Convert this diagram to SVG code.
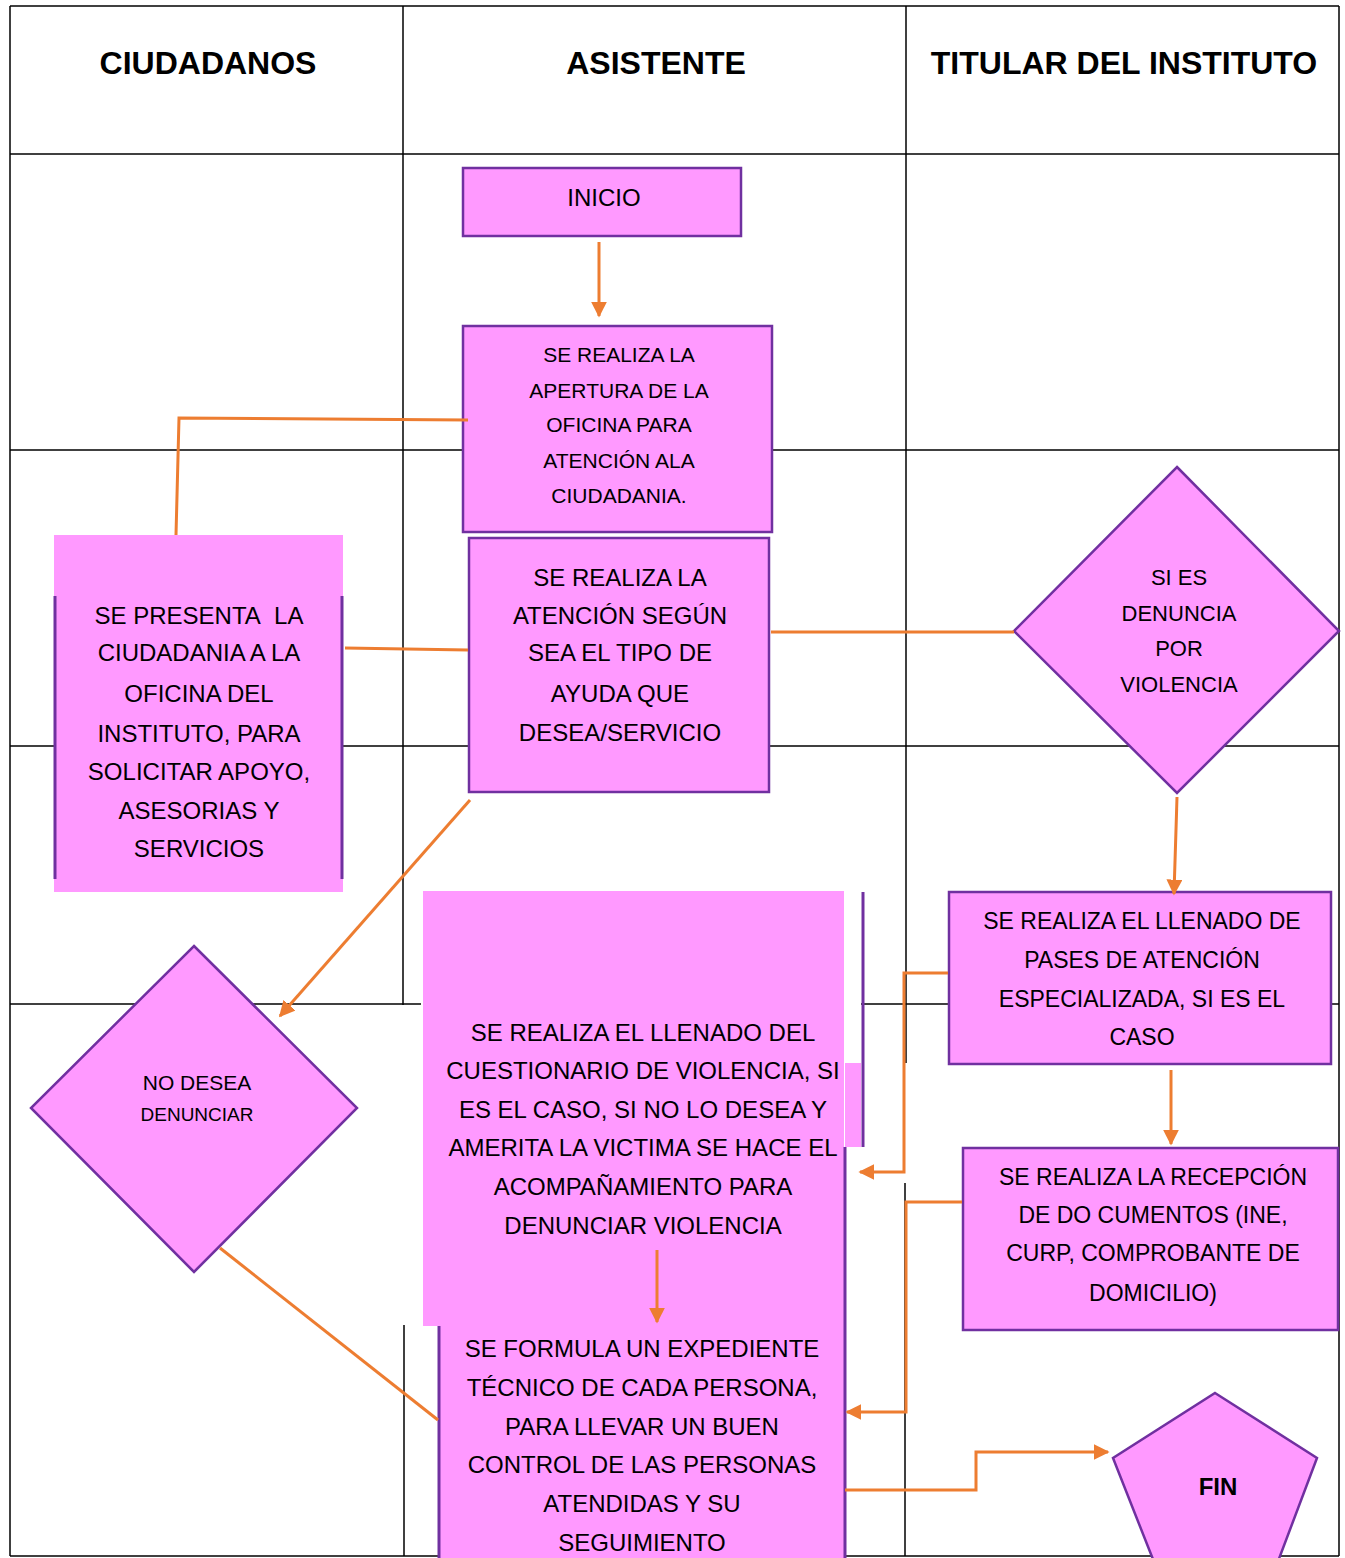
<svg xmlns="http://www.w3.org/2000/svg" width="1345" height="1558" viewBox="0 0 1345 1558">
<defs>
<style>
.grid{stroke:#000;stroke-width:1.5;fill:none}
.box{fill:#FF99FF;stroke:#7030A0;stroke-width:2.5}
.fill{fill:#FF99FF;stroke:none}
.edge{stroke:#7030A0;stroke-width:3;fill:none}
.con{stroke:#ED7D31;stroke-width:3;fill:none}
.t{font-family:"Liberation Sans",Arial,sans-serif;fill:#000;text-anchor:middle}
.h{font-family:"Liberation Sans",Arial,sans-serif;font-weight:bold;font-size:32px;fill:#000;text-anchor:middle}
</style>
<marker id="arr" viewBox="0 0 10 10" refX="9" refY="5" markerWidth="16" markerHeight="16" markerUnits="userSpaceOnUse" orient="auto"><path d="M0,0L10,5L0,10z" fill="#ED7D31"/></marker>
</defs>
<rect width="1345" height="1558" fill="#fff"/>
<g id="grid" class="grid">
<line x1="10" y1="6" x2="1339" y2="6"/>
<line x1="10" y1="6" x2="10" y2="1556"/>
<line x1="1339" y1="6" x2="1339" y2="1556"/>
<line x1="10" y1="1556" x2="1339" y2="1556"/>
<line x1="10" y1="154" x2="1339" y2="154"/>
<line x1="10" y1="450" x2="1339" y2="450"/>
<line x1="10" y1="746" x2="1339" y2="746"/>
<line x1="10" y1="1004" x2="421" y2="1004"/>
<line x1="861" y1="1004" x2="1339" y2="1004"/>
<line x1="403" y1="6" x2="403" y2="1005"/>
<line x1="404" y1="1325" x2="404" y2="1556"/>
<line x1="906" y1="6" x2="906" y2="1063"/>
<line x1="905" y1="1183" x2="905" y2="1556"/>
</g>
<g id="headers">
<text class="h" x="208" y="74">CIUDADANOS</text>
<text class="h" x="656" y="74">ASISTENTE</text>
<text class="h" x="1124" y="74">TITULAR DEL INSTITUTO</text>
</g>
<g id="inicio">
<rect class="box" x="463" y="168" width="278" height="68"/>
<text class="t" x="604" y="206" font-size="24">INICIO</text>
</g>
<g id="apertura">
<rect class="box" x="463" y="326" width="309" height="206"/>
<g class="t" font-size="21">
<text x="619" y="362">SE REALIZA LA</text>
<text x="619" y="398">APERTURA DE LA</text>
<text x="619" y="432">OFICINA PARA</text>
<text x="619" y="468">ATENCIÓN ALA</text>
<text x="619" y="503">CIUDADANIA.</text>
</g>
</g>
<g id="atencion">
<rect class="box" x="469" y="538" width="300" height="254"/>
<g class="t" font-size="24">
<text x="620" y="586">SE REALIZA LA</text>
<text x="620" y="624">ATENCIÓN SEGÚN</text>
<text x="620" y="661">SEA EL TIPO DE</text>
<text x="620" y="702">AYUDA QUE</text>
<text x="620" y="741">DESEA/SERVICIO</text>
</g>
</g>
<g id="presenta">
<rect class="fill" x="54" y="535" width="289" height="357"/>
<line class="edge" x1="55" y1="596" x2="55" y2="879"/>
<line class="edge" x1="342" y1="596" x2="342" y2="879"/>
<g class="t" font-size="24">
<text x="199" y="624">SE PRESENTA&#160; LA</text>
<text x="199" y="661">CIUDADANIA A LA</text>
<text x="199" y="702">OFICINA DEL</text>
<text x="199" y="742">INSTITUTO, PARA</text>
<text x="199" y="780">SOLICITAR APOYO,</text>
<text x="199" y="819">ASESORIAS Y</text>
<text x="199" y="857">SERVICIOS</text>
</g>
</g>
<g id="si_es_denuncia">
<polygon class="box" points="1177,467 1339,631 1177,793 1014,631"/>
<g class="t" font-size="22">
<text x="1179" y="585">SI ES</text>
<text x="1179" y="621">DENUNCIA</text>
<text x="1179" y="656">POR</text>
<text x="1179" y="692">VIOLENCIA</text>
</g>
</g>
<g id="no_desea">
<polygon class="box" points="194,946 357,1108 194,1272 31,1108"/>
<text class="t" x="197" y="1090" font-size="21">NO DESEA</text>
<text class="t" x="197" y="1121" font-size="19">DENUNCIAR</text>
</g>
<g id="cuestionario">
<rect class="fill" x="423" y="891" width="421" height="435"/>
<rect class="fill" x="845" y="1063" width="16" height="84"/>
<line class="edge" x1="863" y1="892" x2="863" y2="1147"/>
<g class="t" font-size="24">
<text x="643" y="1041">SE REALIZA EL LLENADO DEL</text>
<text x="643" y="1079">CUESTIONARIO DE VIOLENCIA, SI</text>
<text x="643" y="1118">ES EL CASO, SI NO LO DESEA Y</text>
<text x="643" y="1156">AMERITA LA VICTIMA SE HACE EL</text>
<text x="643" y="1195">ACOMPAÑAMIENTO PARA</text>
<text x="643" y="1234">DENUNCIAR VIOLENCIA</text>
</g>
</g>
<g id="expediente">
<rect class="fill" x="438" y="1326" width="407" height="240"/>
<line class="edge" x1="439" y1="1326" x2="439" y2="1558"/>
<line class="edge" x1="845" y1="1147" x2="845" y2="1558"/>
<g class="t" font-size="24">
<text x="642" y="1357">SE FORMULA UN EXPEDIENTE</text>
<text x="642" y="1396">TÉCNICO DE CADA PERSONA,</text>
<text x="642" y="1435">PARA LLEVAR UN BUEN</text>
<text x="642" y="1473">CONTROL DE LAS PERSONAS</text>
<text x="642" y="1512">ATENDIDAS Y SU</text>
<text x="642" y="1551">SEGUIMIENTO</text>
</g>
</g>
<g id="pases">
<rect class="box" x="949" y="892" width="382" height="172"/>
<g class="t" font-size="23">
<text x="1142" y="929">SE REALIZA EL LLENADO DE</text>
<text x="1142" y="968">PASES DE ATENCIÓN</text>
<text x="1142" y="1007">ESPECIALIZADA, SI ES EL</text>
<text x="1142" y="1045">CASO</text>
</g>
</g>
<g id="recepcion">
<rect class="box" x="963" y="1148" width="375" height="182"/>
<g class="t" font-size="23">
<text x="1153" y="1185">SE REALIZA LA RECEPCIÓN</text>
<text x="1153" y="1223">DE DO CUMENTOS (INE,</text>
<text x="1153" y="1261">CURP, COMPROBANTE DE</text>
<text x="1153" y="1301">DOMICILIO)</text>
</g>
</g>
<g id="fin">
<polygon class="box" points="1215,1393 1317,1458 1274,1572 1158,1572 1113,1458"/>
<text class="t" x="1218" y="1495" font-size="24" font-weight="bold">FIN</text>
</g>
<g id="connectors" class="con">
<line x1="599" y1="242" x2="599" y2="316" marker-end="url(#arr)"/>
<polyline points="468,420 179,418 176,535"/>
<line x1="345" y1="648" x2="468" y2="650"/>
<line x1="771" y1="632" x2="1014" y2="632"/>
<line x1="470" y1="800" x2="280" y2="1016" marker-end="url(#arr)"/>
<line x1="1177" y1="797" x2="1174" y2="894" marker-end="url(#arr)"/>
<line x1="1171" y1="1070" x2="1171" y2="1144" marker-end="url(#arr)"/>
<polyline points="948,973 904,973 904,1172 860,1172" marker-end="url(#arr)"/>
<polyline points="962,1202 906,1202 906,1412 847,1412" marker-end="url(#arr)"/>
<line x1="220" y1="1248" x2="438" y2="1420"/>
<line x1="657" y1="1250" x2="657" y2="1322" marker-end="url(#arr)"/>
<polyline points="845,1490 976,1490 976,1452 1108,1452" marker-end="url(#arr)"/>
</g>
</svg>
